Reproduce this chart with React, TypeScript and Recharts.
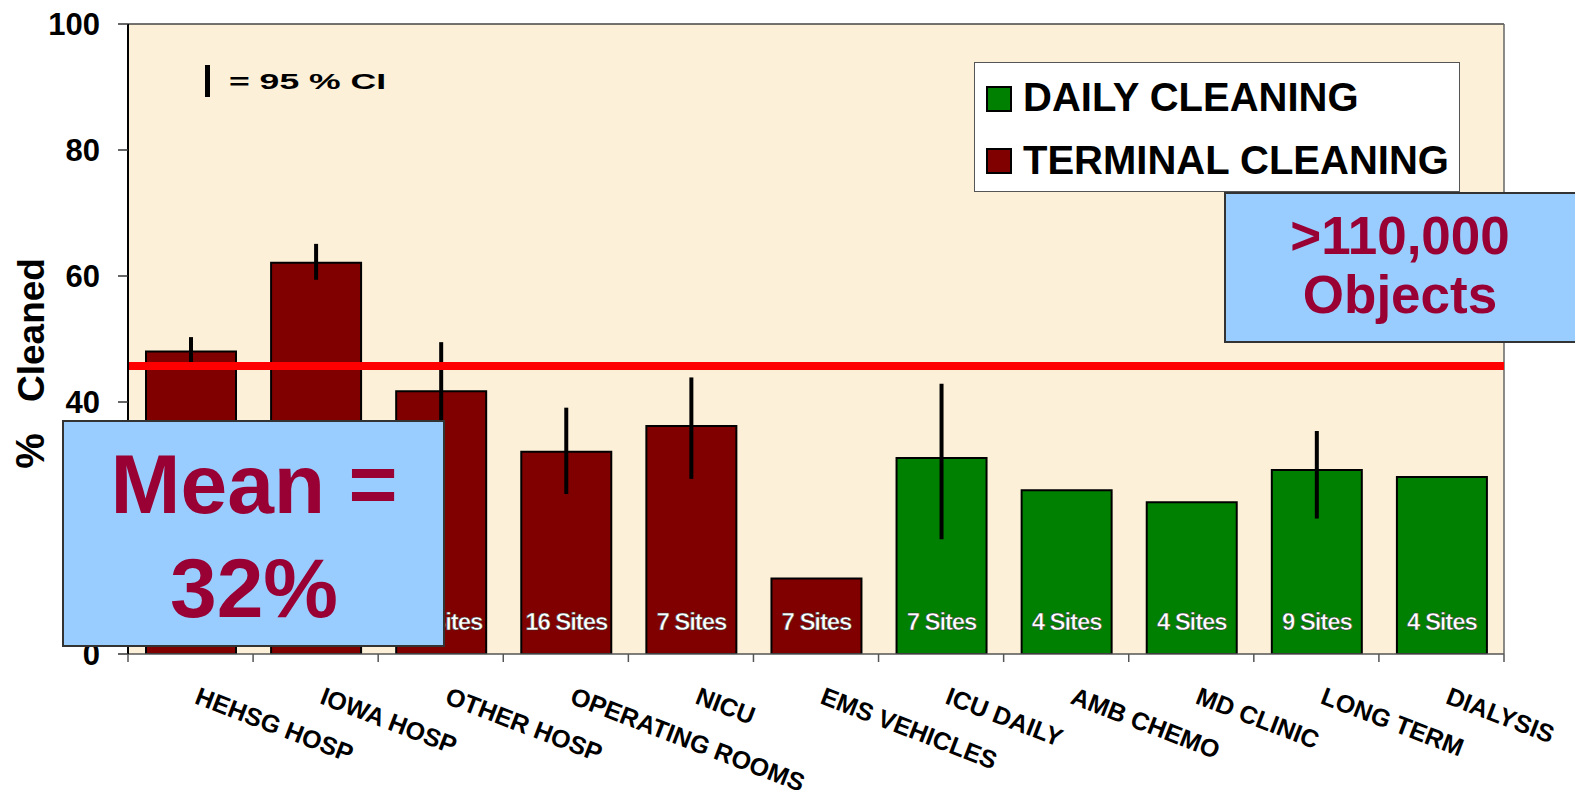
import React from 'react';
import {
  BarChart,
  Bar,
  XAxis,
  YAxis,
  Cell,
  ErrorBar,
  ReferenceLine,
  CartesianGrid,
  LabelList,
  Legend,
  Label,
} from 'recharts';

const FONT = '"Liberation Sans", Arial, Helvetica, sans-serif';
const MAROON = '#800000';
const GREEN = '#008000';
const BOX_FILL = '#99ccff';
const BOX_TEXT = '#990033';

// ---- data ----
const categories = [
  'HEHSG HOSP',
  'IOWA HOSP',
  'OTHER HOSP',
  'OPERATING ROOMS',
  'NICU',
  'EMS VEHICLES',
  'ICU DAILY',
  'AMB CHEMO',
  'MD CLINIC',
  'LONG TERM',
  'DIALYSIS',
];
const cleanedPct = [48, 62.1, 41.7, 32.1, 36.2, 12, 31.1, 26, 24.1, 29.2, 28.1];
const ciBelow = [2.3, 2.7, 7.8, 6.7, 8.4, null, 12.9, null, null, 7.7, null];
const ciAbove = [2.3, 3.0, 7.8, 7.0, 7.7, null, 11.8, null, null, 6.2, null];
const cleaningType = [
  'terminal', 'terminal', 'terminal', 'terminal', 'terminal', 'terminal',
  'daily', 'daily', 'daily', 'daily', 'daily',
];
const siteLabels = ['', '', '36 Sites', '16 Sites', '7 Sites', '7 Sites', '7 Sites', '4 Sites', '4 Sites', '9 Sites', '4 Sites'];
const yTicks = [0, 20, 40, 60, 80, 100];
const meanLineValue = 45.7;
const legendItems = [
  { label: 'DAILY CLEANING', color: GREEN },
  { label: 'TERMINAL CLEANING', color: MAROON },
];

// category slots on a 0..N numeric axis: integer = boundary tick, x.5 = label
const slotTicks: number[] = [];
for (let i = 0; i <= categories.length; i++) {
  slotTicks.push(i);
  if (i < categories.length) slotTicks.push(i + 0.5);
}

const data = categories.map((name, i) => ({
  name,
  slot: i + 0.5,
  value: cleanedPct[i],
  ci: ciBelow[i] == null ? null : [ciBelow[i], ciAbove[i]],
  type: cleaningType[i],
  sites: siteLabels[i],
}));

const SlotTick = (props: any) => {
  const { x, y, payload } = props;
  const v = Number(payload.value);
  if (Number.isInteger(v)) {
    return <line x1={x} y1={y} x2={x} y2={y + 8} stroke="#555" strokeWidth={1.5} />;
  }
  const label = categories[Math.floor(v)];
  const tx = x + 3;
  const ty = y + 49;
  return (
    <text
      x={tx}
      y={ty}
      transform={`rotate(21 ${tx} ${ty})`}
      textAnchor="start"
      fontFamily={FONT}
      fontWeight={700}
      fontSize={25}
      fill="#000"
    >
      {label}
    </text>
  );
};

const SiteLabel = (props: any) => {
  const { x, y, width, height, value } = props;
  if (!value) return null;
  return (
    <text
      x={Number(x) + Number(width) / 2}
      y={Number(y) + Number(height) - 24}
      textAnchor="middle"
      fontFamily={FONT}
      fontWeight={700}
      fontSize={24}
      letterSpacing={-1.1}
      fill="#fff"
      stroke="#333"
      strokeWidth={0.5}
    >
      {value}
    </text>
  );
};

const renderYLabel = () => (
  <g>
    <text
      x={44}
      y={330}
      transform="rotate(-90 44 330)"
      textAnchor="middle"
      fontFamily={FONT}
      fontWeight={700}
      fontSize={37}
      fill="#000"
    >
      Cleaned
    </text>
    <text
      x={44}
      y={451}
      transform="rotate(-90 44 451)"
      textAnchor="middle"
      fontFamily={FONT}
      fontWeight={700}
      fontSize={40}
      fill="#000"
    >
      %
    </text>
  </g>
);

const LegendBox = () => (
  <svg width={486} height={130} style={{ display: 'block' }}>
    <rect x={0.5} y={0.5} width={485} height={129} fill="#fff" stroke="#555" strokeWidth={1} />
    {legendItems.map((it, i) => (
      <g key={it.label}>
        <rect x={13} y={25 + i * 62} width={24} height={24} fill={it.color} stroke="#000" strokeWidth={2} />
        <text
          x={49}
          y={49 + i * 63}
          fontFamily={FONT}
          fontWeight={700}
          fontSize={40}
          fill="#000"
        >
          {it.label}
        </text>
      </g>
    ))}
  </svg>
);

export default function App() {
  return (
    <div style={{ position: 'absolute', left: 0, top: 0, width: 1575, height: 796, background: '#fff' }}>
      <BarChart
        width={1575}
        height={796}
        data={data}
        margin={{ top: 24, right: 71, bottom: 0, left: 0 }}
        barSize={90}
      >
        <CartesianGrid fill="#fcf0d8" horizontal={false} vertical={false} stroke="none" />
        <XAxis dataKey="name" type="category" hide height={0} />
        <XAxis
          xAxisId="slots"
          dataKey="slot"
          type="number"
          scale="linear"
          domain={[0, categories.length]}
          ticks={slotTicks}
          interval={0}
          allowDataOverflow
          tick={<SlotTick />}
          tickLine={false}
          tickSize={0}
          tickMargin={0}
          height={142}
          axisLine={{ stroke: '#555', strokeWidth: 1.5 }}
        />
        <YAxis
          domain={[0, 100]}
          ticks={yTicks}
          allowDataOverflow
          width={128}
          tickSize={10}
          tickMargin={18}
          axisLine={{ stroke: '#000', strokeWidth: 2 }}
          tickLine={{ stroke: '#333', strokeWidth: 1.5 }}
          tick={{ fontSize: 31, fontWeight: 700, fill: '#000', fontFamily: FONT }}
        >
          <Label content={renderYLabel} />
        </YAxis>
        <Bar dataKey="value" isAnimationActive={false} stroke="#000" strokeWidth={2}>
          {data.map((d, i) => (
            <Cell key={i} fill={d.type === 'daily' ? GREEN : MAROON} />
          ))}
          <ErrorBar dataKey="ci" width={0} stroke="#000" strokeWidth={4} direction="y" isAnimationActive={false} />
          <LabelList dataKey="sites" content={SiteLabel} />
        </Bar>
        <ReferenceLine y={100} stroke="#444" strokeWidth={1.5} />
        <ReferenceLine xAxisId="slots" x={categories.length} stroke="#666" strokeWidth={1.5} ifOverflow="visible" />
        <ReferenceLine y={meanLineValue} stroke="#ff0000" strokeWidth={8} />
        <Legend
          layout="vertical"
          verticalAlign="middle"
          align="center"
          wrapperStyle={{ left: 974, top: 62, width: 486, height: 130 }}
          content={LegendBox}
        />
      </BarChart>
      <svg
        width={1575}
        height={796}
        style={{ position: 'absolute', left: 0, top: 0, pointerEvents: 'none' }}
      >
        <rect x={205} y={65} width={5} height={32} fill="#000" />
        <text
          x={229}
          y={89}
          fontFamily={FONT}
          fontWeight={700}
          fontSize={22}
          textLength={157}
          lengthAdjust="spacingAndGlyphs"
          fill="#000"
        >
          = 95 % CI
        </text>
        <rect x={63} y={421} width={381} height={225} fill={BOX_FILL} stroke="#333" strokeWidth={2} />
        <text x={254} y={513} textAnchor="middle" fontFamily={FONT} fontWeight={700} fontSize={84} fill={BOX_TEXT}>
          Mean =
        </text>
        <text x={254} y={617} textAnchor="middle" fontFamily={FONT} fontWeight={700} fontSize={84} fill={BOX_TEXT}>
          32%
        </text>
        <rect x={1225} y={193} width={360} height={149} fill={BOX_FILL} stroke="#333" strokeWidth={2} />
        <text x={1400} y={254} textAnchor="middle" fontFamily={FONT} fontWeight={700} fontSize={53} fill={BOX_TEXT}>
          &gt;110,000
        </text>
        <text x={1400} y={313} textAnchor="middle" fontFamily={FONT} fontWeight={700} fontSize={53} fill={BOX_TEXT}>
          Objects
        </text>
      </svg>
    </div>
  );
}
